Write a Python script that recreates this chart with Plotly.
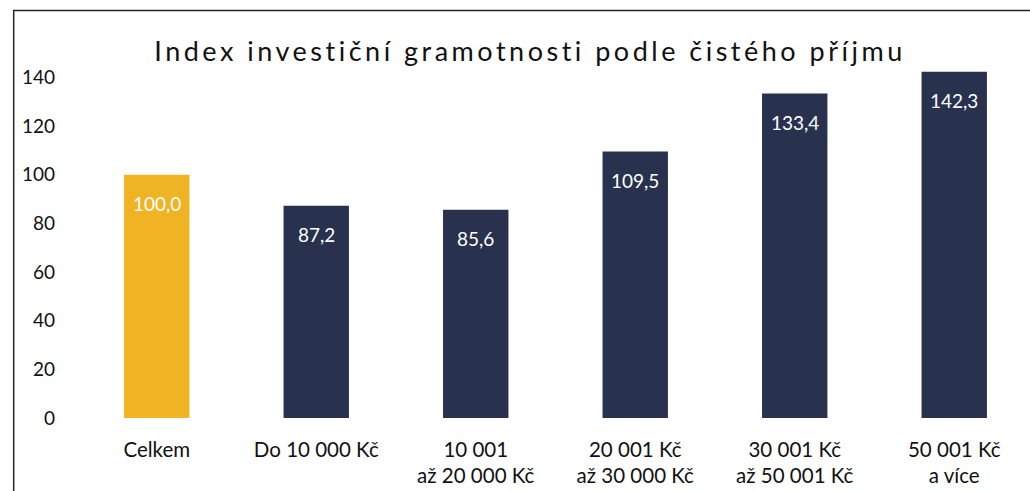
import plotly.graph_objects as go

categories = ["Celkem", "Do 10 000 Kč", "10 001<br>až 20 000 Kč", "20 001 Kč<br>až 30 000 Kč",
              "30 001 Kč<br>až 50 001 Kč", "50 001 Kč<br>a více"]
values = [100.0, 87.2, 85.6, 109.5, 133.4, 142.3]
bar_colors = ["#F0B323", "#28324E", "#28324E", "#28324E", "#28324E", "#28324E"]
y_ticks = [0, 20, 40, 60, 80, 100, 120, 140]
title_text = "Index investiční gramotnosti podle čistého příjmu"

FONT = "Lato"
W, H = 1030, 491
ML, MR, MT, MB = 77.3, 0, 52.6, 73

fig = go.Figure()
xs = list(range(len(categories)))
fig.add_trace(go.Bar(
    x=xs, y=values, width=0.41,
    marker=dict(color=bar_colors, line=dict(width=0)),
    hoverinfo="skip",
))

for xv, v in zip(xs, values):
    fig.add_annotation(
        x=xv, y=v, xref="x", yref="y",
        text=f"{v:.1f}".replace(".", ","),
        showarrow=False, yanchor="middle", yshift=-29,
        font=dict(family=FONT, size=19, color="white"),
    )

fig.update_layout(
    width=W, height=H,
    margin=dict(l=ML, r=MR, t=MT, b=MB, pad=0, autoexpand=False),
    paper_bgcolor="white", plot_bgcolor="white",
    showlegend=False,
    title=dict(
        text='<span style="letter-spacing:3.5px">' + title_text + '</span>',
        x=530 / W, xanchor="center", xref="container",
        y=1 - 52 / H, yanchor="middle", yref="container",
        font=dict(family=FONT, size=27, color="#111111"),
    ),
    xaxis=dict(
        range=[-0.5, 5.475], tickmode="array", tickvals=xs, ticktext=categories,
        showgrid=False, zeroline=False, showline=False, ticks="",
        tickfont=dict(family=FONT, size=20.5, color="#111111"),
        ticklabelstandoff=17, automargin=False,
    ),
    yaxis=dict(
        range=[0, 150], tickmode="array", tickvals=y_ticks,
        showgrid=False, zeroline=False, showline=False, ticks="",
        tickfont=dict(family=FONT, size=19, color="#111111"),
        ticklabelstandoff=21, automargin=False,
    ),
    shapes=[dict(
        type="rect", xref="paper", yref="paper",
        x0=(14 - ML) / (W - ML - MR), x1=1.05,
        y0=-0.4, y1=(H - MB - 10) / (H - MT - MB),
        line=dict(color="#262626", width=1.5), fillcolor="rgba(0,0,0,0)",
        layer="above",
    )],
)

fig.write_html(
    "out.html",
    config={"displayModeBar": False},
    post_script="document.body.style.margin='0';document.body.style.overflow='hidden';",
)
